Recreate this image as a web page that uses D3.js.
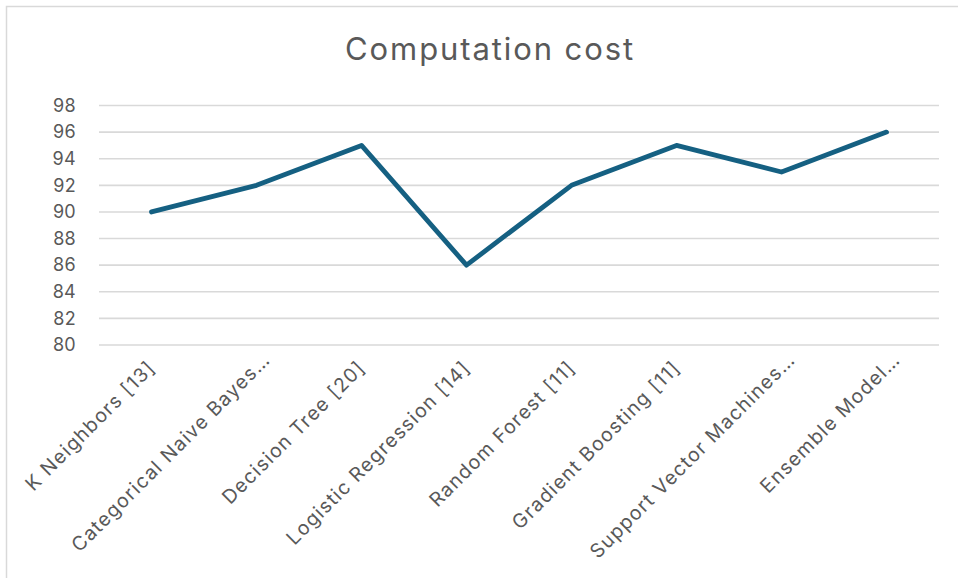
<!DOCTYPE html>
<html>
<head>
<meta charset="utf-8">
<script src="https://cdn.jsdelivr.net/npm/d3@7"></script>
<style>
  html, body { margin: 0; padding: 0; background: #ffffff; }
  svg { display: block; }
  text { font-family: Inter, "Open Sans", "Liberation Sans", sans-serif; }
</style>
</head>
<body>
<svg id="chart" width="958" height="578"></svg>
<script>
const title = "Computation cost";
const categories = [
  "K Neighbors [13]",
  "Categorical Naive Bayes…",
  "Decision Tree [20]",
  "Logistic Regression [14]",
  "Random Forest [11]",
  "Gradient Boosting [11]",
  "Support Vector Machines…",
  "Ensemble Model…"
];
const values = [90, 92, 95, 86, 92, 95, 93, 96];
const yTicks = [80, 82, 84, 86, 88, 90, 92, 94, 96, 98];

const W = 958, H = 578;
const margin = { left: 99, right: 19 };
const svg = d3.select("#chart");

// chart area border (top and left visible)
svg.append("rect")
  .attr("x", 6.5).attr("y", 6.5)
  .attr("width", 970).attr("height", 590)
  .attr("fill", "none").attr("stroke", "#d9d9d9").attr("stroke-width", 1.5);

const x = d3.scaleBand()
  .domain(categories)
  .range([margin.left, W - margin.right]);

const y = d3.scaleLinear()
  .domain([80, 98])
  .range([345, 105.5]);

// gridlines
svg.append("g")
  .selectAll("line")
  .data(yTicks)
  .join("line")
  .attr("x1", margin.left).attr("x2", W - margin.right)
  .attr("y1", d => y(d)).attr("y2", d => y(d))
  .attr("stroke", "#d9d9d9").attr("stroke-width", 1.6);

// y axis labels
const yAxis = d3.axisLeft(y).tickValues(yTicks).tickSize(0).tickPadding(0);
const gy = svg.append("g").attr("transform", "translate(76,0)").call(yAxis);
gy.select(".domain").remove();
gy.selectAll("text")
  .attr("fill", "#595959")
  .style("font-size", "18px")
  .style("letter-spacing", "0.3px")
  .style("font-family", "Inter, 'Open Sans', sans-serif");

// x axis labels (rotated -45°, text end at the tick)
const xAxis = d3.axisBottom(x).tickSize(0).tickPadding(0);
const gx = svg.append("g").attr("transform", "translate(0,0)").call(xAxis);
gx.select(".domain").remove();
gx.selectAll("text")
  .attr("fill", "#595959")
  .style("font-size", "19.5px")
  .style("letter-spacing", "1.25px")
  .style("font-family", "Inter, 'Open Sans', sans-serif")
  .attr("text-anchor", "end")
  .attr("dy", "0")
  .attr("y", 0)
  .attr("transform", d => d.endsWith("…")
    ? "translate(15,361) rotate(-45)"
    : "translate(5,369) rotate(-45)");

// line
const line = d3.line()
  .x((d, i) => x(categories[i]) + x.bandwidth() / 2)
  .y(d => y(d));

svg.append("path")
  .datum(values)
  .attr("d", line)
  .attr("fill", "none")
  .attr("stroke", "#156082")
  .attr("stroke-width", 4.8)
  .attr("stroke-linecap", "round")
  .attr("stroke-linejoin", "round");

// title
svg.append("text")
  .attr("x", 490).attr("y", 60)
  .attr("text-anchor", "middle")
  .attr("fill", "#595959")
  .style("font-size", "31px")
  .style("letter-spacing", "1.9px")
  .text(title);
</script>
</body>
</html>
